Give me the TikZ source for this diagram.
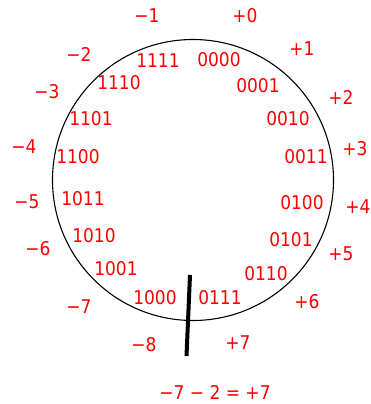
\documentclass[tikz,border=0pt]{standalone}
\usepackage{fontspec}
\setmainfont{DejaVu Sans Condensed}
\begin{document}
\begin{tikzpicture}[x=1bp,y=-1bp,
  lab/.style={text=red,inner sep=0pt,font=\fontsize{19}{22}\selectfont},
  ring/.style={draw=black,line width=1.1bp},
  cut/.style={draw=black,line width=4bp}]
\useasboundingbox (0,0) rectangle (371,404);
\draw[ring] (193,180) circle [radius=140.5];
% outer decimal labels
\node[lab] (m1) at (147,16) {−1};
\node[lab] (p0) at (245,16) {+0};
\node[lab] (p1) at (302,49) {+1};
\node[lab] (p2) at (341,97) {+2};
\node[lab] (p3) at (355,149) {+3};
\node[lab] (p4) at (358,207) {+4};
\node[lab] (p5) at (341,254) {+5};
\node[lab] (p6) at (307,302) {+6};
\node[lab] (p7) at (238,343) {+7};
\node[lab] (m8) at (144,345) {−8};
\node[lab] (m7) at (79,307) {−7};
\node[lab] (m6) at (38,249) {−6};
\node[lab] (m5) at (27,202) {−5};
\node[lab] (m4) at (24,147) {−4};
\node[lab] (m3) at (47,92) {−3};
\node[lab] (m2) at (79,54) {−2};
% binary labels
\node[lab] (b1111) at (158,61) {1111};
\node[lab] (b0000) at (219,60) {0000};
\node[lab] (b0001) at (258,86) {0001};
\node[lab] (b0010) at (288,119) {0010};
\node[lab] (b0011) at (306,157) {0011};
\node[lab] (b0100) at (302,203) {0100};
\node[lab] (b0101) at (291,240) {0101};
\node[lab] (b0110) at (266,274) {0110};
\node[lab] (b0111) at (220,298) {0111};
\node[lab] (b1000) at (155,298) {1000};
\node[lab] (b1001) at (116,269) {1001};
\node[lab] (b1010) at (94,236) {1010};
\node[lab] (b1011) at (83,199) {1011};
\node[lab] (b1100) at (78,157) {1100};
\node[lab] (b1101) at (91,119) {1101};
\node[lab] (b1110) at (119,83) {1110};
% cut line
\coordinate (cuttop) at (190,275);
\coordinate (cutbot) at (186.5,356);
\draw[cut] (cuttop) -- (cutbot);
% equation
\node[lab] (eq) at (215,392) {−7 − 2 = +7};
\end{tikzpicture}
\end{document}
